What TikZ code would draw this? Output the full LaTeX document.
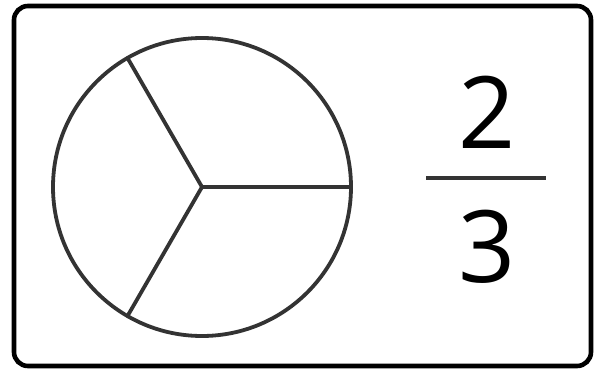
\documentclass[tikz,border=0pt]{standalone}
\usepackage{fontspec}
\setmainfont{Open Sans}
\usepackage{tikz}
\usetikzlibrary{positioning,calc}
\definecolor{inkgray}{HTML}{333333}

\begin{document}
\begin{tikzpicture}[x=1pt,y=-1pt,line cap=round,
  pie/.style={draw=inkgray,line width=3.8pt,circle,minimum size=298pt,inner sep=0pt,outer sep=0pt},
  spoke/.style={draw=inkgray,line width=3.8pt},
  digit/.style={font=\fontsize{100}{100}\selectfont,text=black,inner sep=0pt}]
\useasboundingbox (0,0) rectangle (595,369);
%% card frame
\draw[black,line width=4.6pt,rounded corners=14pt] (14,6) rectangle (591,366);
%% circle cut into thirds
\node[pie] (pie) at (202,187) {};
\foreach \ang in {0,120,240}
  \draw[spoke] (pie.center) -- (pie.\ang);
%% fraction 2/3
\node[digit,anchor=base] (num) at (487,148) {2};
\node[digit,anchor=base] (den) at (487,282) {3};
\coordinate (barL) at (426,178);
\coordinate (barR) at (546,178);
\draw[inkgray,line width=3.8pt,line cap=butt] (barL) -- (barR);
\end{tikzpicture}
\end{document}
